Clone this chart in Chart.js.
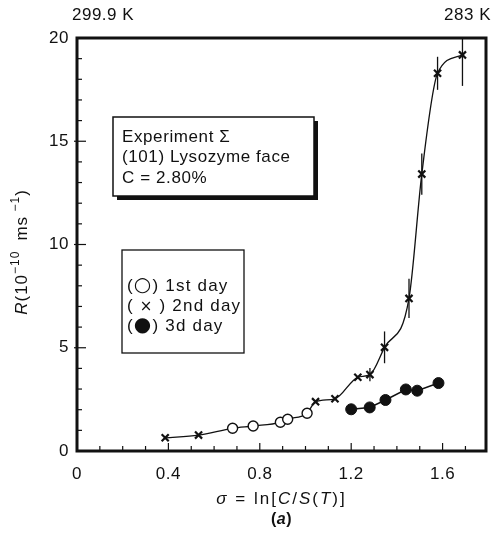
<!DOCTYPE html>
<html>
<head>
<meta charset="utf-8">
<script src="https://cdn.jsdelivr.net/npm/chart.js@4/dist/chart.umd.min.js"></script>
<style>
  html, body { margin: 0; padding: 0; background: #fff; }
  #wrap { width: 494px; height: 535px; }
</style>
</head>
<body>
<div id="wrap"><canvas id="c" width="494" height="535"></canvas></div>
<script>
// ---- data ----
const day1X = [0.681, 0.771, 0.890, 0.922, 1.007];
const day1Y = [1.10, 1.21, 1.39, 1.54, 1.83];
const day2X = [0.386, 0.532, 1.044, 1.129, 1.229, 1.282, 1.346, 1.453, 1.509, 1.578, 1.687];
const day2Y = [0.64, 0.77, 2.39, 2.53, 3.57, 3.70, 5.02, 7.39, 13.41, 18.29, 19.18];
const day2Err = [0, 0, 0, 0, 0, 0.32, 0.77, 0.95, 1.0, 0.8, 1.5];
const day3X = [1.200, 1.281, 1.350, 1.439, 1.489, 1.582];
const day3Y = [2.02, 2.11, 2.47, 2.98, 2.92, 3.29];
const xTickValues = [0, 0.4, 0.8, 1.2, 1.6];
const yTickValues = [0, 5, 10, 15, 20];
const topLeftLabel = '299.9 K';
const topRightLabel = '283 K';
const boxLines = ['Experiment \u03A3', '(101) Lysozyme face', 'C = 2.80%'];
const legendSymbols = ['\u25CB', ' \u00D7 ', '\u25CF'];
const legendNames = ['1st day', '2nd day', '3d day'];

const pts = (xs, ys) => xs.map((x, i) => ({ x: x, y: ys[i] }));
const curvePts = pts(day1X.concat(day2X), day1Y.concat(day2Y)).sort((a, b) => a.x - b.x);

const FONT = '"Liberation Sans", Arial, sans-serif';

function drawRich(ctx, segs, cx, cy, size, spacing, align) {
  ctx.letterSpacing = (spacing || 0) + 'px';
  let total = 0;
  const fonts = segs.map(s => {
    const sz = s.size || (s.sup ? Math.round(size * 0.68) : size);
    const f = (s.it ? 'italic ' : '') + (s.b ? 'bold ' : '') + sz + 'px ' + (s.fam || FONT);
    ctx.font = f;
    const w = ctx.measureText(s.t).width;
    total += w;
    return { f, w };
  });
  let x = align === 'left' ? cx : cx - total / 2;
  ctx.textBaseline = 'middle';
  ctx.textAlign = 'left';
  segs.forEach((s, i) => {
    ctx.font = fonts[i].f;
    ctx.fillText(s.t, x, (s.sup ? cy - size * 0.4 : cy) + (s.dy || 0));
    x += fonts[i].w;
  });
}

const decor = {
  id: 'decor',
  beforeDraw(chart) {
    chart.ctx.letterSpacing = '0.5px';
  },
  beforeDatasetsDraw(chart) {
    const { ctx, chartArea: a, scales: { x, y } } = chart;
    ctx.save();
    ctx.beginPath();
    ctx.rect(a.left, a.top, a.right - a.left, a.bottom - a.top);
    ctx.clip();
    ctx.strokeStyle = '#111';
    ctx.lineWidth = 1.3;
    day2X.forEach((vx, i) => {
      const e = day2Err[i];
      if (!e) return;
      const px = x.getPixelForValue(vx);
      ctx.beginPath();
      ctx.moveTo(px, y.getPixelForValue(day2Y[i] - e));
      ctx.lineTo(px, y.getPixelForValue(day2Y[i] + e));
      ctx.stroke();
    });
    ctx.restore();
  },
  afterDatasetsDraw(chart) {
    const { ctx } = chart;
    ctx.save();
    // annotation box with shadow
    ctx.fillStyle = '#111';
    ctx.fillRect(117, 121, 201, 79);
    ctx.fillStyle = '#fff';
    ctx.fillRect(113, 117, 201, 79);
    ctx.strokeStyle = '#111';
    ctx.lineWidth = 1.5;
    ctx.strokeRect(113, 117, 201, 79);
    ctx.fillStyle = '#111';
    ctx.font = '17px ' + FONT;
    ctx.letterSpacing = '0.6px';
    ctx.textBaseline = 'middle';
    ctx.textAlign = 'left';
    boxLines.forEach((t, i) => ctx.fillText(t, 122, 137 + i * 20.5));
    // legend box
    ctx.fillStyle = '#fff';
    ctx.fillRect(122, 250, 122, 103);
    ctx.strokeStyle = '#111';
    ctx.lineWidth = 1.3;
    ctx.strokeRect(122, 250, 122, 103);
    ctx.fillStyle = '#111';
    legendNames.forEach((t, i) => {
      const big = i !== 1;
      drawRich(ctx, [
        { t: '(' },
        { t: legendSymbols[i], size: big ? 20 : 15, fam: '"DejaVu Sans", sans-serif', dy: big ? 0 : 1 },
        { t: ') ' + t }
      ], 127, 286 + i * 20, 17, 1.2, 'left');
    });
    ctx.restore();
  },
  afterDraw(chart) {
    const { ctx, chartArea: a, scales: { x, y } } = chart;
    ctx.save();
    ctx.strokeStyle = '#111';
    // minor / major ticks pointing inward
    ctx.lineWidth = 1.2;
    for (let i = 1; i <= 17; i++) {
      const v = i / 10;
      const px = x.getPixelForValue(v);
      const major = (i % 4 === 0);
      ctx.beginPath();
      ctx.moveTo(px, a.bottom);
      ctx.lineTo(px, a.bottom - (major ? 8 : 5));
      ctx.stroke();
    }
    for (let i = 1; i <= 19; i++) {
      const py = y.getPixelForValue(i);
      const major = (i % 5 === 0);
      ctx.beginPath();
      ctx.moveTo(a.left - (major ? 3 : 0), py);
      ctx.lineTo(a.left + (major ? 9 : 5), py);
      ctx.stroke();
    }
    // frame
    ctx.lineWidth = 3;
    ctx.strokeRect(a.left, a.top, a.right - a.left, a.bottom - a.top);
    // top labels
    ctx.fillStyle = '#111';
    ctx.font = '17px ' + FONT;
    ctx.letterSpacing = '0.5px';
    ctx.textBaseline = 'middle';
    ctx.textAlign = 'left';
    ctx.fillText(topLeftLabel, 72, 15);
    ctx.textAlign = 'right';
    ctx.fillText(topRightLabel, 491, 15);
    // x title
    drawRich(ctx, [
      { t: '\u03C3', it: true }, { t: ' = ln[' }, { t: 'C', it: true }, { t: '/' },
      { t: 'S', it: true }, { t: '(' }, { t: 'T', it: true }, { t: ')]' }
    ], (a.left + a.right) / 2, 499, 17, 2);
    drawRich(ctx, [{ t: '(' , b: true}, { t: 'a', it: true, b: true }, { t: ')', b: true }],
      (a.left + a.right) / 2, 520, 16, 0.5);
    // y title (rotated)
    ctx.translate(22, 252);
    ctx.rotate(-Math.PI / 2);
    drawRich(ctx, [
      { t: 'R', it: true }, { t: '(10' }, { t: '\u221210 ', sup: true }, { t: ' ms' },
      { t: ' \u22121', sup: true }, { t: ')' }
    ], 0, 0, 17, 1);
    ctx.restore();
  }
};

new Chart(document.getElementById('c'), {
  type: 'scatter',
  data: {
    datasets: [
      {
        label: 'fit', type: 'line', data: curvePts, showLine: true,
        borderColor: '#111', borderWidth: 1.3, pointRadius: 0,
        cubicInterpolationMode: 'monotone', fill: false, order: 5
      },
      {
        label: '3d day', type: 'line', data: pts(day3X, day3Y), showLine: true,
        borderColor: '#111', borderWidth: 1.5, tension: 0,
        pointStyle: 'circle', pointRadius: 5.5, pointBackgroundColor: '#111',
        pointBorderColor: '#111', pointBorderWidth: 1, order: 2
      },
      {
        label: '1st day', data: pts(day1X, day1Y),
        pointStyle: 'circle', pointRadius: 5, pointBackgroundColor: '#fff',
        pointBorderColor: '#111', pointBorderWidth: 1.4, order: 1
      },
      {
        label: '2nd day', data: pts(day2X, day2Y),
        pointStyle: 'crossRot', pointRadius: 5, pointBorderColor: '#111',
        pointBorderWidth: 2.2, order: 1
      }
    ]
  },
  options: {
    responsive: false,
    animation: false,
    events: [],
    layout: { padding: { top: 38, right: 8, left: 0, bottom: 0 } },
    plugins: { legend: { display: false }, tooltip: { enabled: false } },
    scales: {
      x: {
        type: 'linear', min: 0, max: 1.79,
        afterBuildTicks: s => { s.ticks = xTickValues.map(v => ({ value: v })); },
        afterFit: s => { s.height = 84; },
        grid: { display: false, drawTicks: false },
        border: { display: false },
        ticks: { color: '#111', font: { family: FONT, size: 17 }, padding: 13,
                 callback: v => String(v) }
      },
      y: {
        type: 'linear', min: 0, max: 20,
        afterBuildTicks: s => { s.ticks = yTickValues.map(v => ({ value: v })); },
        afterFit: s => { s.width = 77; },
        grid: { display: false, drawTicks: false },
        border: { display: false },
        ticks: { color: '#111', font: { family: FONT, size: 17 }, padding: 8 }
      }
    }
  },
  plugins: [decor]
});
</script>
</body>
</html>
